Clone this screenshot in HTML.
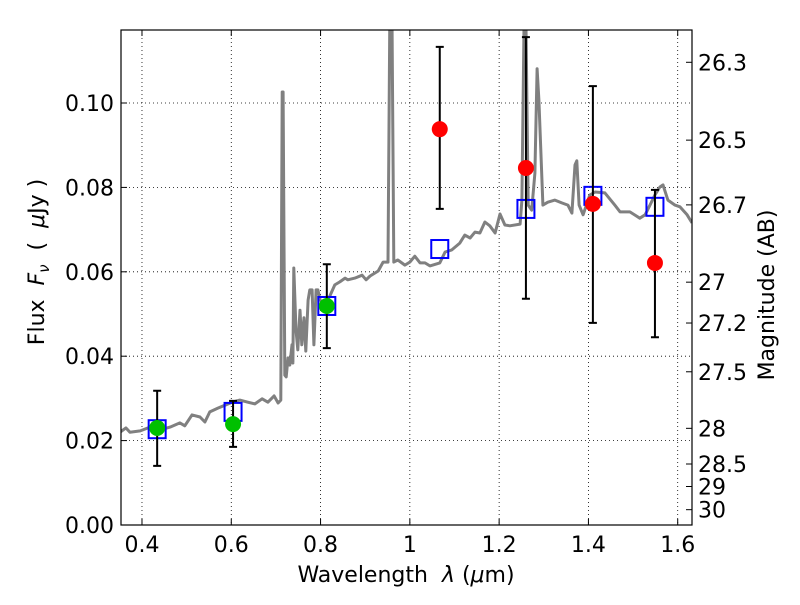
<!DOCTYPE html>
<html><head><meta charset="utf-8"><style>
body{margin:0;background:#fff;}
svg text{font-family:"DejaVu Sans","Liberation Sans",sans-serif;}
</style></head><body>
<svg id="chart" width="800" height="600" viewBox="0 0 800 600">
<rect width="800" height="600" fill="#fff"/>
<defs><clipPath id="plotclip"><rect x="121" y="30" width="571" height="495"/></clipPath></defs>
<g id="grid"></g>
<g id="marks" clip-path="url(#plotclip)"></g>
<g id="axes"></g>
<text x="406" y="582" font-size="22" text-anchor="middle" xml:space="preserve">Wavelength  <tspan font-style="italic">λ</tspan> (<tspan font-style="italic">μ</tspan>m)</text>
<text transform="translate(44,262) rotate(-90)" font-size="22" text-anchor="middle" xml:space="preserve">Flux  <tspan font-style="italic">F</tspan><tspan font-style="italic" font-size="15" dy="5">ν</tspan><tspan dy="-5">  (  </tspan><tspan font-style="italic">μ</tspan>Jy )</text>
<text transform="translate(774,295) rotate(-90)" font-size="22" text-anchor="middle">Magnitude (AB)</text>
</svg>
<script>
const specLam=[0.351,0.364,0.373,0.396,0.418,0.440,0.463,0.485,0.496,0.512,0.530,0.541,0.552,0.570,0.586,0.602,0.619,0.637,0.653,0.669,0.682,0.696,0.705,0.711,0.714,0.716,0.720,0.723,0.727,0.731,0.736,0.738,0.740,0.745,0.749,0.754,0.758,0.763,0.767,0.772,0.776,0.781,0.785,0.790,0.794,0.799,0.810,0.821,0.832,0.843,0.855,0.861,0.877,0.893,0.902,0.911,0.929,0.940,0.951,0.955,0.960,0.964,0.973,0.989,1.000,1.011,1.023,1.034,1.045,1.067,1.079,1.094,1.112,1.123,1.135,1.146,1.157,1.168,1.179,1.191,1.202,1.213,1.224,1.247,1.251,1.256,1.260,1.265,1.273,1.280,1.285,1.289,1.298,1.309,1.325,1.341,1.354,1.363,1.370,1.374,1.379,1.388,1.403,1.415,1.437,1.459,1.471,1.493,1.515,1.527,1.538,1.549,1.560,1.567,1.578,1.594,1.605,1.621,1.632];
const specFlux=[0.0220,0.0230,0.0220,0.0223,0.0232,0.0225,0.0232,0.0242,0.0235,0.0261,0.0256,0.0244,0.0268,0.0277,0.0284,0.0291,0.0296,0.0291,0.0287,0.0299,0.0291,0.0306,0.0289,0.0296,0.1026,0.1026,0.0355,0.0351,0.0396,0.0379,0.0427,0.0384,0.0609,0.0462,0.0415,0.0509,0.0427,0.0491,0.0412,0.0533,0.0557,0.0557,0.0427,0.0557,0.0557,0.0533,0.0521,0.0543,0.0569,0.0576,0.0585,0.0581,0.0585,0.0592,0.0581,0.0590,0.0602,0.0623,0.0623,0.12,0.12,0.0623,0.0628,0.0616,0.0623,0.0637,0.0621,0.0621,0.0614,0.0621,0.0647,0.0652,0.0668,0.0687,0.0680,0.0694,0.0692,0.0718,0.0709,0.0692,0.0737,0.0711,0.0709,0.0713,0.0770,0.12,0.12,0.0758,0.0746,0.0834,0.1081,0.1007,0.0758,0.0765,0.0770,0.0763,0.0758,0.0739,0.0853,0.0863,0.0758,0.0735,0.0782,0.0789,0.0787,0.0758,0.0742,0.0742,0.0727,0.0735,0.0758,0.0782,0.0801,0.0806,0.0770,0.0758,0.0754,0.0735,0.0716];
const greenLam=[0.434,0.604,0.814];
const greenFlux=[0.0230,0.0239,0.0519];
const greenHi=[0.0318,0.0294,0.0618];
const greenLo=[0.0140,0.0185,0.0419];
const redLam=[1.067,1.260,1.410,1.549];
const redFlux=[0.0938,0.0846,0.0761,0.0621];
const redHi=[0.1133,0.1156,0.1040,0.0794];
const redLo=[0.0749,0.0536,0.0479,0.0445];
const modelLam=[0.434,0.604,0.814,1.067,1.260,1.410,1.549];
const modelFlux=[0.0227,0.0268,0.0519,0.0654,0.0749,0.0780,0.0754];
const xTicks=[0.4,0.6,0.8,1.0,1.2,1.4,1.6];
const xTickLabels=["0.4","0.6","0.8","1","1.2","1.4","1.6"];
const yTicks=[0,0.02,0.04,0.06,0.08,0.10];
const yTickLabels=["0.00","0.02","0.04","0.06","0.08","0.10"];
const magTicks=[26.3,26.5,26.7,27,27.2,27.5,28,28.5,29,30];
const magTickLabels=["26.3","26.5","26.7","27","27.2","27.5","28","28.5","29","30"];

const X0=121,X1=692,Y0=525,Y1=30,LMIN=0.353,LMAX=1.632,FMAX=0.1173;
const sx=l=>X0+(l-LMIN)/(LMAX-LMIN)*(X1-X0);
const sy=f=>Y0-f/FMAX*(Y0-Y1);
const magToFlux=m=>Math.pow(10,(23.9-m)/2.5);
const NS="http://www.w3.org/2000/svg";
function mk(tag,attrs,parent){const e=document.createElementNS(NS,tag);for(const k in attrs)e.setAttribute(k,attrs[k]);parent.appendChild(e);return e;}
const grid=document.getElementById('grid'),marks=document.getElementById('marks'),axes=document.getElementById('axes');

xTicks.forEach((t,i)=>{const x=sx(t);
 let g=mk('line',{x1:x,x2:x,y1:Y1,y2:Y0,stroke:'#000','stroke-width':0.8,'stroke-dasharray':'1,3'},grid);
 
 mk('line',{x1:x,x2:x,y1:Y0,y2:Y0-6,stroke:'#000'},axes);
 mk('line',{x1:x,x2:x,y1:Y1,y2:Y1+6,stroke:'#000'},axes);
 let tx=mk('text',{x:x,y:Y0+27,'font-size':22,'text-anchor':'middle'},axes);tx.textContent=xTickLabels[i];
 });
yTicks.forEach((t,i)=>{const y=sy(t);
 if(t>0){let g=mk('line',{x1:X0,x2:X1,y1:y,y2:y,stroke:'#000','stroke-width':0.8,'stroke-dasharray':'1,3'},grid);
 }
 mk('line',{x1:X0,x2:X0+6,y1:y,y2:y,stroke:'#000'},axes);
 let tx=mk('text',{x:X0-7,y:y+8,'font-size':22,'text-anchor':'end'},axes);tx.textContent=yTickLabels[i];
 });
magTicks.forEach((m,i)=>{const y=sy(magToFlux(m));
 mk('line',{x1:X1,x2:X1-6,y1:y,y2:y,stroke:'#000'},axes);
 let tx=mk('text',{x:X1+6,y:y+8,'font-size':22},axes);tx.textContent=magTickLabels[i];
 });

let d=specLam.map((l,i)=>(i?'L':'M')+sx(l).toFixed(1)+','+sy(specFlux[i]).toFixed(1)).join('');
let sp=mk('path',{d:d,fill:'none',stroke:'#808080','stroke-width':3,'stroke-linejoin':'round'},marks);


modelLam.forEach((l,i)=>{let r=mk('rect',{x:sx(l)-8.5,y:sy(modelFlux[i])-9,width:17,height:18,fill:'none',stroke:'#0000ff','stroke-width':2},marks);
 });
function err(l,lo,hi){const x=sx(l);
 let e=mk('path',{d:`M${x},${sy(lo)}L${x},${sy(hi)}M${x-4},${sy(lo)}L${x+4},${sy(lo)}M${x-4},${sy(hi)}L${x+4},${sy(hi)}`,stroke:'#000','stroke-width':2,fill:'none'},marks);
 }
greenLam.forEach((l,i)=>{err(l,greenLo[i],greenHi[i]);
 let c=mk('circle',{cx:sx(l),cy:sy(greenFlux[i]),r:8,fill:'#00c000'},marks);
 });
redLam.forEach((l,i)=>{err(l,redLo[i],redHi[i]);
 let c=mk('circle',{cx:sx(l),cy:sy(redFlux[i]),r:8,fill:'#ff0000'},marks);
 });

let fr=mk('rect',{x:X0,y:Y1,width:X1-X0,height:Y0-Y1,fill:'none',stroke:'#000','stroke-width':1.2},axes);

</script>
</body></html>
